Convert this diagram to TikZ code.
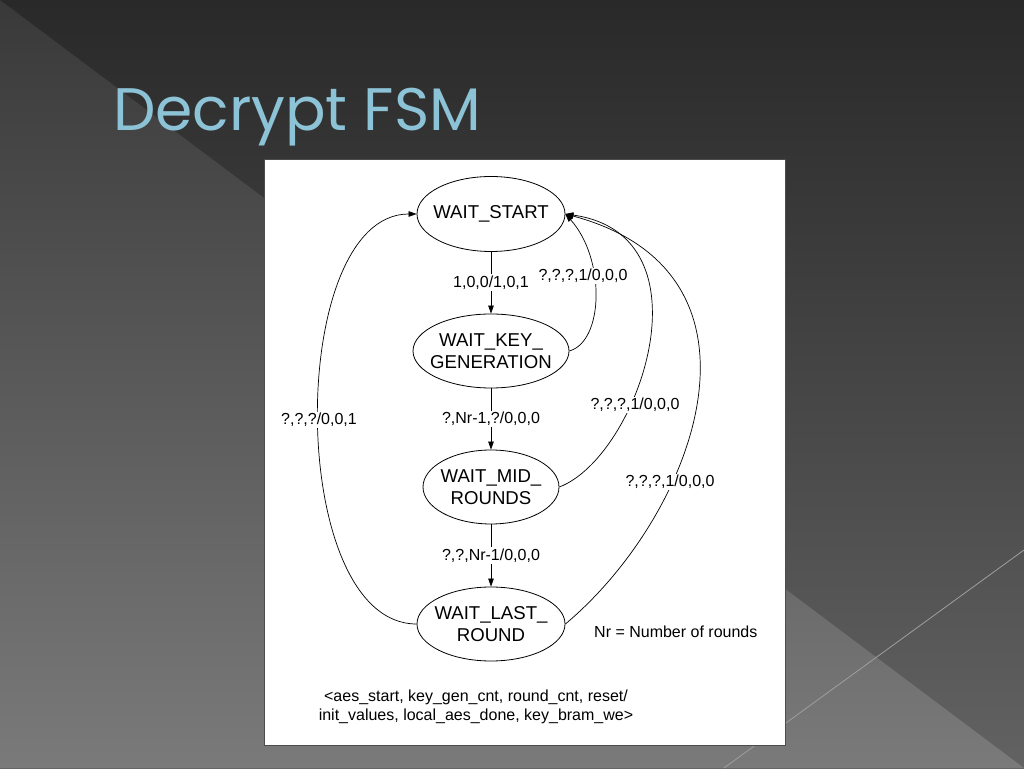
\documentclass[tikz,border=0pt]{standalone}
\usepackage{fontspec}
\setmainfont{Liberation Sans}
\newfontfamily\titlefont{Poppins}
\usepackage{xcolor}
\usetikzlibrary{shapes.geometric,arrows.meta}

\definecolor{titleblue}{HTML}{8DC3D6}
\definecolor{slidetop}{HTML}{292929}
\definecolor{slidemid}{HTML}{313131}
\definecolor{slidebot}{HTML}{626262}
\definecolor{wedgetop}{HTML}{393939}
\definecolor{wedgemid}{HTML}{414141}
\definecolor{wedgebot}{HTML}{7A7A7A}
\newcommand{\stateline}[1]{\makebox[0pt]{#1}}

\begin{document}
\begin{tikzpicture}[x=1pt,y=1pt,
    >={Triangle[length=8pt,width=5.5pt]},
    state/.style={ellipse, draw, line width=0.8pt, inner sep=0pt, align=center,
        font={\fontsize{18.6}{21.7}\selectfont}},
    lbl/.style={fill=white, inner sep=1.5pt, font={\fontsize{16}{19}\selectfont}},
    trans/.style={->, line width=0.7pt}]
                    \useasboundingbox (0,0) rectangle (1024,768);
                    % slide background
                    \shade[top color=slidetop, middle color=slidemid, bottom color=slidebot] (0,0) rectangle (1024,768);
                    \shade[top color=wedgetop, middle color=wedgemid, bottom color=wedgebot] (0,768) -- (1024,0) -- (0,0) -- cycle;
                    \draw[line width=0.8pt, gray!75] (724,0) -- (1024,218);
                    \node[anchor=base west, inner sep=0pt, text=titleblue,
                        font={\titlefont\fontsize{60}{60}\selectfont}] (title) at (113,637) {Decrypt FSM};
                    % diagram sheet
                    \draw[fill=white, draw=gray!60!black, line width=1pt] (264,23) rectangle (785,608);
                    % states
                    \node[state, minimum width=148pt, minimum height=75pt] (start) at (491,554) {\stateline{WAIT\_START}};
                    \node[state, minimum width=156pt, minimum height=74pt] (keygen) at (491,417) {\stateline{WAIT\_KEY\_}\\\stateline{GENERATION}};
                    \node[state, minimum width=136pt, minimum height=74pt] (mid) at (491,281) {\stateline{WAIT\_MID\_}\\\stateline{ROUNDS}};
                    \node[state, minimum width=148pt, minimum height=74pt] (last) at (491,144) {\stateline{WAIT\_LAST\_}\\\stateline{ROUND}};
                    % forward transitions
                    \draw[trans] (start) -- node[lbl] (lgo) {1,0,0/1,0,1} (keygen);
                    \draw[trans] (keygen) -- node[lbl] (lkey) {?,Nr-1,?/0,0,0} (mid);
                    \draw[trans] (mid) -- node[lbl] (lmid) {?,?,Nr-1/0,0,0} (last);
                    % back to WAIT_START
                    \draw[trans] (keygen.east) to[out=16, in=-48, out distance=36pt, in distance=60pt] (start.east);
                    \draw[trans] (mid.east) to[out=21, in=-8, out distance=85pt, in distance=151pt] (start.east);
                    \draw[trans] (last.east) to[out=40, in=-15, out distance=170pt, in distance=228pt] (start.east);
                    \draw[trans] (last.west) to[out=180, in=180, distance=131pt] (start.west);
                    \node[lbl] (lrst1) at (583,492) {?,?,?,1/0,0,0};
                    \node[lbl] (lrst2) at (635,363) {?,?,?,1/0,0,0};
                    \node[lbl] (lrst3) at (670,286) {?,?,?,1/0,0,0};
                    \node[lbl] (ldone) at (319,348) {?,?,?/0,0,1};
                    % notes
                    \node[anchor=west, inner sep=0pt, font={\fontsize{16}{19}\selectfont}] (nr) at (594,136) {Nr = Number of rounds};
                    \node[align=center, inner sep=0pt, font={\fontsize{16}{19.5}\selectfont}] (legend) at (476,61)
                        {<aes\_start, key\_gen\_cnt, round\_cnt, reset/\\init\_values, local\_aes\_done, key\_bram\_we>};
                \end{tikzpicture}
\end{document}
